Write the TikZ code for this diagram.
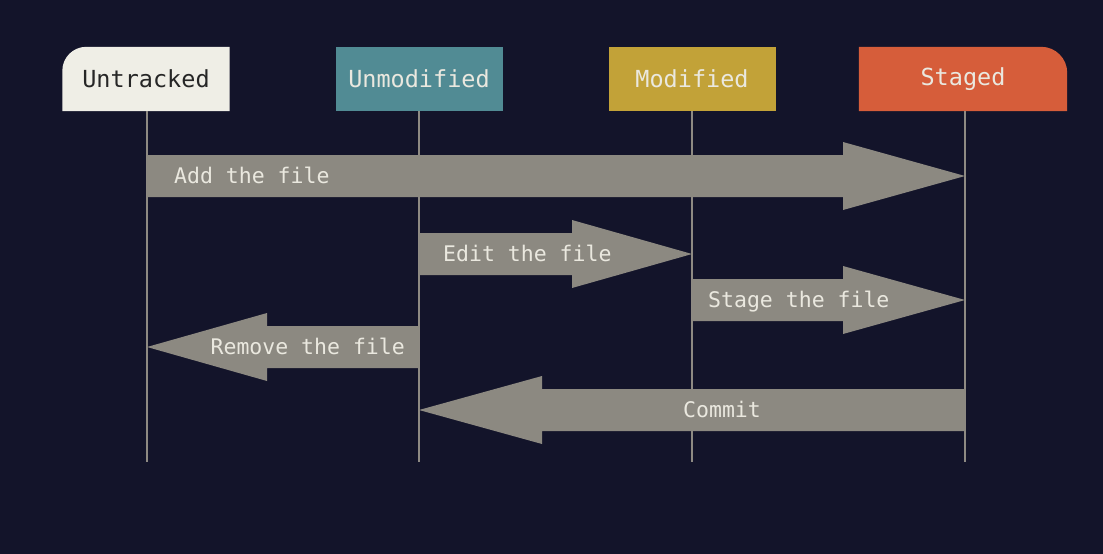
\documentclass[tikz,border=0pt]{standalone}
\usepackage{fontspec}
\setmonofont{DejaVu Sans Mono}
\usetikzlibrary{calc,backgrounds}

\definecolor{bg}{HTML}{13142A}
\definecolor{untrackedfill}{HTML}{EFEEE6}
\definecolor{unmodfill}{HTML}{518B94}
\definecolor{modfill}{HTML}{C2A238}
\definecolor{stagedfill}{HTML}{D65D3A}
\definecolor{arrowgray}{HTML}{8C8981}
\definecolor{lifegray}{HTML}{8E8A83}
\definecolor{lighttext}{HTML}{EAE8DF}
\definecolor{darktext}{HTML}{262626}

\tikzset{
  hdr/.style={minimum height=64, inner sep=0pt, text=lighttext,
    font=\ttfamily\fontsize{23.5}{26}\selectfont},
  life/.style={draw=lifegray, line width=1.5},
  lbl/.style={inner sep=0pt, text=lighttext, yshift=-5,
    font=\ttfamily\fontsize{21.5}{24}\selectfont},
  flow/.style={fill=arrowgray},
}

% block arrow: #1 tail point, #2 tip point, #3 signed head length
\newcommand\flowarrow[3]{%
  \fill[flow] ($(#1)+(0,-21)$) -- ($(#2)+(-#3,-21)$) -- ($(#2)+(-#3,-34)$)
    -- (#2) -- ($(#2)+(-#3,34)$) -- ($(#2)+(-#3,21)$) -- ($(#1)+(0,21)$) -- cycle;}

\begin{document}
\begin{tikzpicture}[x=1pt,y=-1pt]
  \useasboundingbox (0,0) rectangle (1103,554);

  % state headers
  \node[hdr, minimum width=167, text=darktext] (untracked) at (146,79) {Untracked};
  \node[hdr, minimum width=167, fill=unmodfill] (unmodified) at (419,79) {Unmodified};
  \node[hdr, minimum width=167, fill=modfill] (modified) at (692,79) {Modified};
  \node[hdr, minimum width=208] (staged) at (963,79) {Staged};

  \begin{scope}[on background layer]
    \fill[bg] (0,0) rectangle (1103,554);
    \fill[untrackedfill] (untracked.south west) [rounded corners=24]
      -- (untracked.north west) [sharp corners] -- (untracked.north east)
      -- (untracked.south east) -- cycle;
    \fill[stagedfill] (staged.south west) -- (staged.north west) [rounded corners=26]
      -- (staged.north east) [sharp corners] -- (staged.south east) -- cycle;
  \end{scope}

  % lifelines
  \coordinate (untracked-end) at (147,462);
  \coordinate (unmodified-end) at (419,462);
  \coordinate (modified-end) at (692,462);
  \coordinate (staged-end) at (965,462);
  \draw[life] (untracked-end |- untracked.south) -- (untracked-end);
  \draw[life] (unmodified-end |- unmodified.south) -- (unmodified-end);
  \draw[life] (modified-end |- modified.south) -- (modified-end);
  \draw[life] (staged-end |- staged.south) -- (staged-end);

  % transitions
  \coordinate (add-from) at (untracked-end |- 0,176);
  \coordinate (add-to) at (staged-end |- 0,176);
  \flowarrow{add-from}{add-to}{122}
  \node[lbl, anchor=mid west] (add-lbl) at ($(add-from)+(27,0)$) {Add the file};

  \coordinate (edit-from) at (unmodified-end |- 0,254);
  \coordinate (edit-to) at (modified-end |- 0,254);
  \flowarrow{edit-from}{edit-to}{120}
  \node[lbl, anchor=mid west] (edit-lbl) at ($(edit-from)+(24,0)$) {Edit the file};

  \coordinate (stage-from) at (modified-end |- 0,300);
  \coordinate (stage-to) at (staged-end |- 0,300);
  \flowarrow{stage-from}{stage-to}{122}
  \node[lbl, anchor=mid west] (stage-lbl) at ($(stage-from)+(16,0)$) {Stage the file};

  \coordinate (remove-from) at (unmodified-end |- 0,347);
  \coordinate (remove-to) at (untracked-end |- 0,347);
  \flowarrow{remove-from}{remove-to}{-120}
  \node[lbl, anchor=mid east] (remove-lbl) at ($(remove-from)+(-14,0)$) {Remove the file};

  \coordinate (commit-from) at (staged-end |- 0,410);
  \coordinate (commit-to) at (unmodified-end |- 0,410);
  \flowarrow{commit-from}{commit-to}{-123}
  \node[lbl, anchor=mid] (commit-lbl) at (722,410) {Commit};
\end{tikzpicture}
\end{document}
